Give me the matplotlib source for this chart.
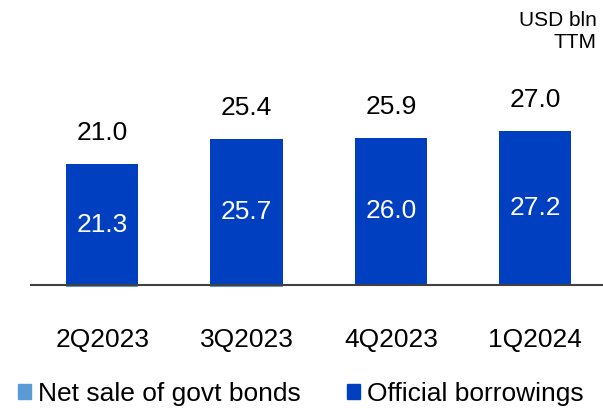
import matplotlib
matplotlib.use("Agg")
import matplotlib.pyplot as plt
from matplotlib.patches import Patch
import numpy as np

quarters = ["2Q2023", "3Q2023", "4Q2023", "1Q2024"]
official_borrowings = [21.3, 25.7, 26.0, 27.2]
net_sale_bonds = [-0.3, -0.3, -0.1, -0.2]
totals = [21.0, 25.4, 25.9, 27.0]

dark_blue = "#0040C0"
light_blue = "#5B9BD5"

plt.rcParams["font.family"] = ["Liberation Sans", "DejaVu Sans"]

W, H = 603, 409
fig = plt.figure(figsize=(W / 100, H / 100), dpi=100)

# axes placed in pixel terms: baseline at y=285px, 5.67 px per unit
scale = 5.67
y_lo, y_hi = -1, 30
base_px = 285
bottom_px = base_px + (-y_lo) * scale
top_px = base_px - y_hi * scale
ax = fig.add_axes([30 / W, (H - bottom_px) / H, 573 / W, (bottom_px - top_px) / H])

x = np.arange(len(quarters))
ax.bar(x, official_borrowings, width=0.5, color=dark_blue, zorder=2)
ax.bar(x, net_sale_bonds, width=0.5, color=light_blue, zorder=2)
ax.axhline(0, color="#404040", lw=1.5, zorder=3)

ax.set_xlim(-0.5, 3.47)
ax.set_ylim(y_lo, y_hi)
ax.axis("off")

for i in range(len(quarters)):
    ax.text(x[i], official_borrowings[i] / 2, f"{official_borrowings[i]:.1f}",
            ha="center", va="center", color="white", fontsize=19, zorder=4)
    ax.annotate(f"{totals[i]:.1f}", (x[i], official_borrowings[i]),
                xytext=(0, 31), textcoords="offset pixels",
                ha="center", va="center", fontsize=19, color="black")
    ax.annotate(quarters[i], (x[i], 0), xytext=(0, -55), textcoords="offset pixels",
                ha="center", va="center", fontsize=19, color="black",
                annotation_clip=False)

fig.text(597 / W, 1 - 11 / H, "USD bln\nTTM", ha="right", va="top",
         fontsize=15, linespacing=1.2)

handles = [Patch(color=light_blue, label="Net sale of govt bonds"),
           Patch(color=dark_blue, label="Official borrowings")]
fig.legend(handles=handles, loc="center left", bbox_to_anchor=(18 / W, 1 - 394 / H),
           ncol=2, frameon=False, fontsize=19, handlelength=0.5, handleheight=0.5,
           handletextpad=0.25, columnspacing=1.75, borderpad=0, borderaxespad=0)

fig.savefig("out.png", dpi=100)
